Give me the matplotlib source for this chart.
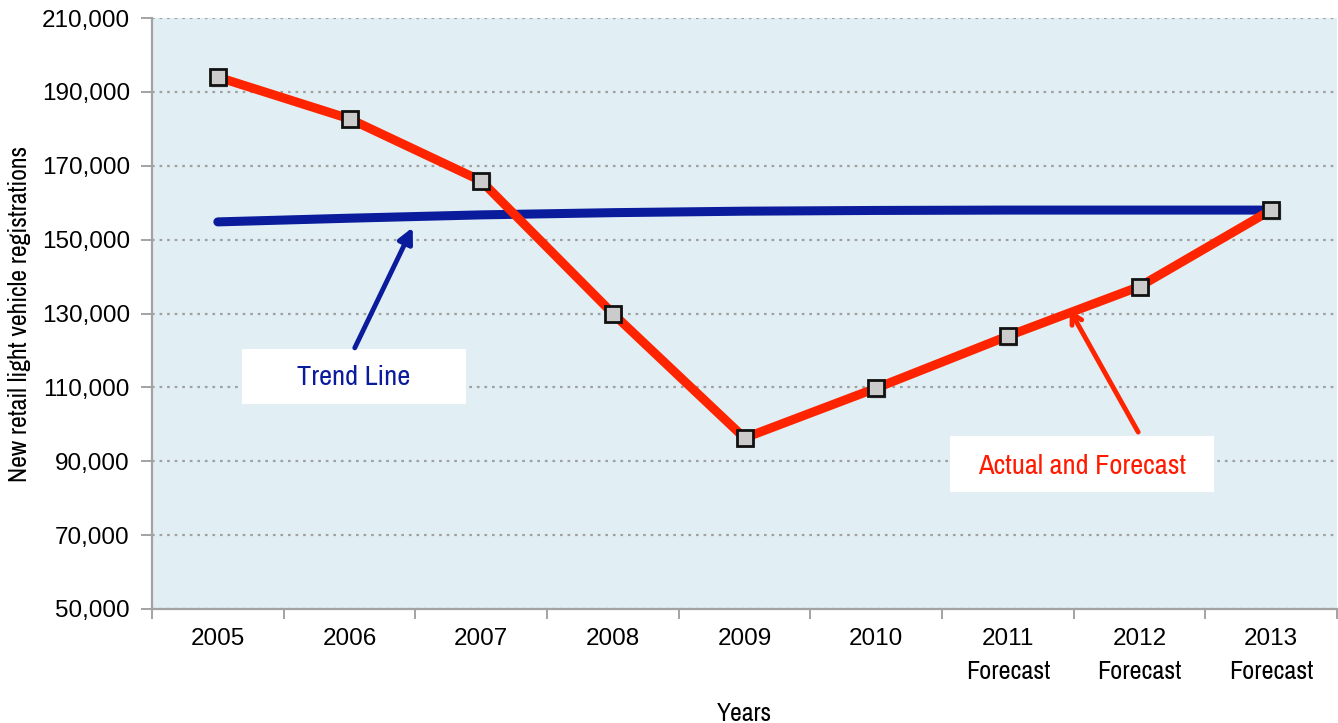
import matplotlib
matplotlib.use("Agg")
import matplotlib.pyplot as plt
import matplotlib.transforms as mtransforms
from matplotlib.patches import Rectangle
from matplotlib.ticker import FuncFormatter, FixedLocator

# Data
years = ["2005", "2006", "2007", "2008", "2009", "2010", "2011", "2012", "2013"]
year_notes = ["", "", "", "", "", "", "Forecast", "Forecast", "Forecast"]
actual_forecast = [194000, 182700, 165900, 130000, 96300, 109800, 123900, 137300, 158000]
trend = [154800, 155800, 156700, 157300, 157700, 157900, 158000, 158000, 158000]
y_ticks = [50000, 70000, 90000, 110000, 130000, 150000, 170000, 190000, 210000]

plt.rcParams["font.family"] = ["Liberation Sans", "DejaVu Sans"]
narrow = ["Archivo Narrow", "DejaVu Sans"]

fig = plt.figure(figsize=(13.38, 7.23), dpi=100)
ax = fig.add_axes([152 / 1338, 114 / 723, 1185 / 1338, 591 / 723])
ax.set_facecolor("#e1eff5")

x = list(range(len(years)))

ax.set_xlim(-0.5, len(years) - 0.5)
ax.set_ylim(y_ticks[0], y_ticks[-1])

# Grid
ax.set_yticks(y_ticks)
ax.yaxis.grid(True, linestyle=(0, (1.2, 2.2)), color="#a0a0a0", linewidth=1.6)
ax.set_axisbelow(True)

# Series
ax.plot(x, trend, color="#0a1c9c", linewidth=6.5, solid_capstyle="round", zorder=3)
ax.plot(x, actual_forecast, color="#ff2400", linewidth=6.5, solid_joinstyle="miter",
        zorder=4,
        marker="s", markersize=11, markerfacecolor="#cbcbcb",
        markeredgecolor="#111111", markeredgewidth=2)
# soft shadows under the square markers
shadow = ax.transData + mtransforms.ScaledTranslation(1.5 / 100, -1.5 / 100, fig.dpi_scale_trans)
ax.plot(x, actual_forecast, linestyle="none", marker="s", markersize=12,
        markerfacecolor="#7a7a7a", markeredgecolor="none", alpha=0.35,
        transform=shadow, zorder=3.5)

# Spines
for s in ["top", "right"]:
    ax.spines[s].set_visible(False)
for s in ["left", "bottom"]:
    ax.spines[s].set_color("#a3a3a3")
    ax.spines[s].set_linewidth(1.6)

# Ticks
ax.yaxis.set_major_formatter(FuncFormatter(lambda v, p: f"{int(v):,}"))
ax.tick_params(axis="y", length=8, width=1.4, color="#a3a3a3", pad=8, labelsize=17.5)

ax.set_xticks(x)
ax.set_xticklabels(years, fontsize=17.5)
ax.xaxis.set_minor_locator(FixedLocator([i - 0.5 for i in range(len(years) + 1)]))
ax.tick_params(axis="x", which="major", length=0, pad=14)
ax.tick_params(axis="x", which="minor", length=7, width=1.4, color="#a3a3a3")

# second line under the forecast years
below = mtransforms.blended_transform_factory(ax.transData, ax.transAxes)
for xi, note in zip(x, year_notes):
    if note:
        ax.text(xi, -0.105, note, transform=below, family=narrow, fontsize=19,
                ha="center", va="center")

ax.set_ylabel("New retail light vehicle registrations", family=narrow, fontsize=18.5)
ax.yaxis.set_label_coords(-0.102, 0.5)
ax.set_xlabel("Years", family=narrow, fontsize=18.5)
ax.xaxis.set_label_coords(0.5, -0.157)

# Callout: trend line
ax.add_patch(Rectangle((0.184, 105500), 1.70, 14900, facecolor="white",
                       edgecolor="none", zorder=5))
ax.text(1.034, 112700, "Trend Line", color="#0a1c9c", fontsize=20.5, family=narrow,
        ha="center", va="center", zorder=6)
ax.annotate("", xy=(1.48, 153300), xytext=(1.04, 120700),
            arrowprops=dict(arrowstyle="-|>,head_length=0.9,head_width=0.45",
                            color="#0a1c9c", lw=3.5, shrinkA=0, shrinkB=0),
            zorder=6)

# Callout: actual and forecast
ax.add_patch(Rectangle((5.56, 81700), 2.005, 15150, facecolor="white",
                       edgecolor="none", zorder=5))
ax.text(6.56, 88700, "Actual and Forecast", color="#ff1a00", fontsize=20.5, family=narrow,
        ha="center", va="center", zorder=6)
ax.annotate("", xy=(6.47, 131000), xytext=(6.99, 97900),
            arrowprops=dict(arrowstyle="->,head_length=0.7,head_width=0.4",
                            color="#ff2400", lw=3.5, shrinkA=0, shrinkB=0),
            zorder=6)

fig.savefig("out.png", dpi=100)
